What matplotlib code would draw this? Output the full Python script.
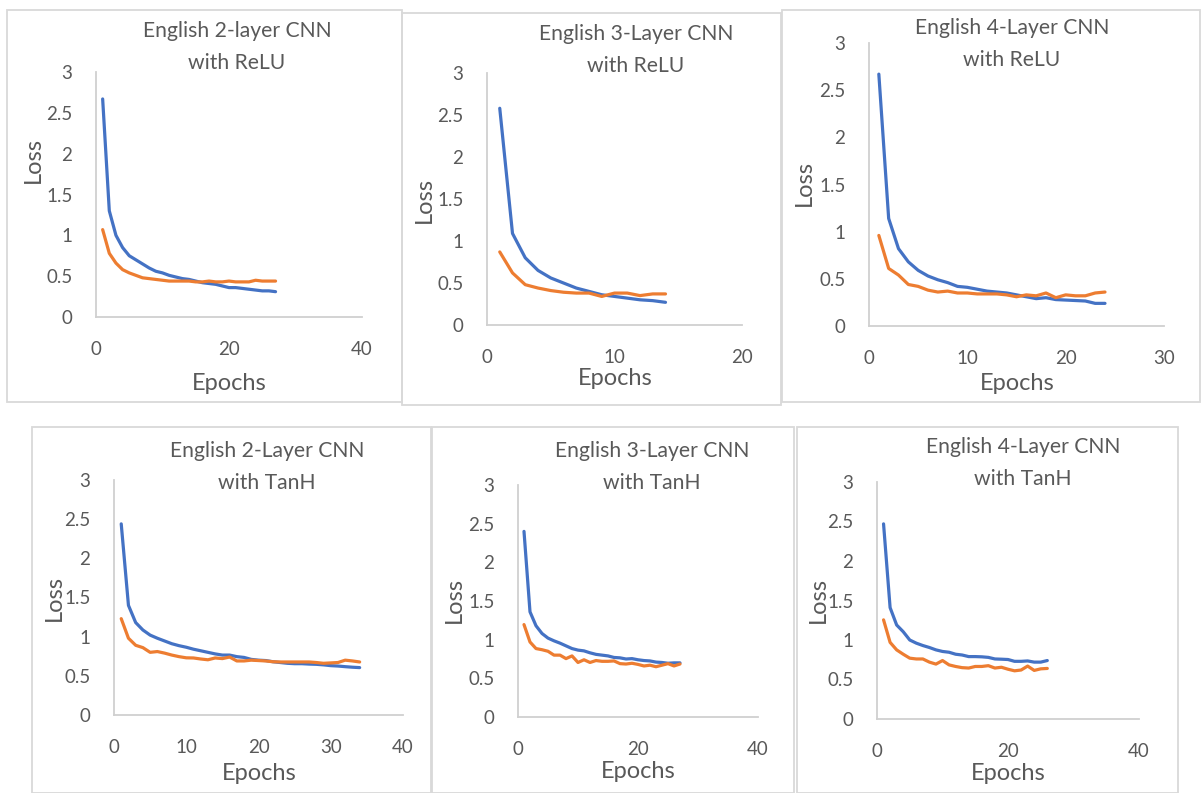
import matplotlib
matplotlib.use("Agg")
import matplotlib.pyplot as plt
from matplotlib.patches import Rectangle

plt.rcParams['font.family'] = ['Lato', 'DejaVu Sans']

W, H = 1203, 793

# ---------------- data ----------------
titles = [
    "English 2-layer CNN\nwith ReLU",
    "English 3-Layer CNN\nwith ReLU",
    "English 4-Layer CNN\nwith ReLU",
    "English 2-Layer CNN\nwith TanH",
    "English 3-Layer CNN\nwith TanH",
    "English 4-Layer CNN\nwith TanH",
]
x_max = [40, 20, 30, 40, 40, 40]
x_ticks = [[0, 20, 40], [0, 10, 20], [0, 10, 20, 30], [0, 10, 20, 30, 40], [0, 20, 40], [0, 20, 40]]
y_ticks = [0, 0.5, 1, 1.5, 2, 2.5, 3]
y_tick_labels = ["0", "0.5", "1", "1.5", "2", "2.5", "3"]

relu2_blue = [2.67, 1.30, 1.00, 0.85, 0.75, 0.70, 0.65, 0.60, 0.56, 0.54, 0.51, 0.49, 0.47, 0.46,
              0.44, 0.42, 0.41, 0.40, 0.38, 0.36, 0.36, 0.35, 0.34, 0.33, 0.32, 0.32, 0.31]
relu2_orange = [1.07, 0.78, 0.66, 0.58, 0.54, 0.51, 0.48, 0.47, 0.46, 0.45, 0.44, 0.44, 0.44, 0.44,
                0.43, 0.43, 0.44, 0.43, 0.43, 0.44, 0.43, 0.43, 0.43, 0.45, 0.44, 0.44, 0.44]

relu3_blue = [2.58, 1.09, 0.80, 0.65, 0.56, 0.50, 0.44, 0.40, 0.36, 0.34, 0.32, 0.30, 0.29, 0.27]
relu3_orange = [0.87, 0.62, 0.48, 0.44, 0.41, 0.39, 0.38, 0.38, 0.34, 0.38, 0.38, 0.35, 0.37, 0.37]

relu4_blue = [2.67, 1.14, 0.82, 0.68, 0.59, 0.53, 0.49, 0.46, 0.42, 0.41, 0.39, 0.37, 0.36, 0.35,
              0.33, 0.31, 0.29, 0.30, 0.28, 0.275, 0.27, 0.265, 0.24, 0.24]
relu4_orange = [0.96, 0.61, 0.54, 0.44, 0.42, 0.38, 0.36, 0.37, 0.35, 0.35, 0.34, 0.34, 0.34, 0.33,
                0.31, 0.33, 0.32, 0.35, 0.30, 0.33, 0.32, 0.32, 0.35, 0.36]

tanh2_blue = [2.44, 1.40, 1.18, 1.085, 1.02, 0.98, 0.945, 0.91, 0.885, 0.865, 0.84, 0.82, 0.80, 0.78,
              0.765, 0.765, 0.745, 0.735, 0.71, 0.70, 0.695, 0.68, 0.67, 0.66, 0.655, 0.655, 0.65,
              0.647, 0.64, 0.63, 0.625, 0.617, 0.61, 0.605]
tanh2_orange = [1.23, 0.98, 0.89, 0.86, 0.80, 0.81, 0.79, 0.765, 0.745, 0.73, 0.728, 0.715, 0.705, 0.728,
                0.72, 0.74, 0.69, 0.69, 0.70, 0.695, 0.69, 0.68, 0.677, 0.677, 0.677, 0.677, 0.677,
                0.67, 0.66, 0.665, 0.67, 0.70, 0.69, 0.677]

tanh3_blue = [2.40, 1.36, 1.18, 1.08, 1.02, 0.985, 0.955, 0.92, 0.885, 0.865, 0.855, 0.83, 0.81, 0.80,
              0.79, 0.77, 0.765, 0.75, 0.755, 0.74, 0.73, 0.725, 0.71, 0.705, 0.695, 0.70, 0.70]
tanh3_orange = [1.195, 0.97, 0.885, 0.87, 0.85, 0.80, 0.80, 0.755, 0.79, 0.705, 0.74, 0.705, 0.73, 0.72,
                0.72, 0.725, 0.69, 0.685, 0.695, 0.68, 0.66, 0.67, 0.65, 0.67, 0.69, 0.66, 0.685]

tanh4_blue = [2.47, 1.41, 1.19, 1.105, 1.00, 0.96, 0.93, 0.905, 0.875, 0.855, 0.845, 0.82, 0.81, 0.79,
              0.79, 0.787, 0.78, 0.76, 0.757, 0.753, 0.73, 0.73, 0.735, 0.72, 0.72, 0.74]
tanh4_orange = [1.255, 0.97, 0.875, 0.82, 0.77, 0.76, 0.76, 0.72, 0.695, 0.74, 0.685, 0.665, 0.65, 0.645,
                0.665, 0.665, 0.675, 0.645, 0.655, 0.63, 0.61, 0.62, 0.67, 0.615, 0.635, 0.64]

blue_series = [relu2_blue, relu3_blue, relu4_blue, tanh2_blue, tanh3_blue, tanh4_blue]
orange_series = [relu2_orange, relu3_orange, relu4_orange, tanh2_orange, tanh3_orange, tanh4_orange]

# ---------------- layout (pixels) ----------------
borders = [(7, 10, 402, 402), (402, 13, 781, 405), (782, 10, 1200, 402),
           (32, 427, 431, 793), (432, 427, 794, 793), (797, 427, 1178, 793)]
axes_px = [(96, 362, 72, 317), (487, 742, 73, 325), (869, 1164, 43, 326),
           (114, 403, 480, 715), (518, 758, 485, 717), (877, 1139, 482, 719)]
title_px = [(237, 47), (636, 50), (1012, 44), (267, 467), (652, 467), (1023, 463)]
epochs_px = [(229, 383), (615, 379), (1017, 383), (259, 773), (638, 771), (1008, 774)]
loss_px = [(33, 160), (424, 200), (804, 183), (54, 598), (454, 600), (818, 600)]

BLUE = "#4472C4"
ORANGE = "#ED7D31"
TXT = "#595959"
GRID = "#D0D0D0"

fig = plt.figure(figsize=(W / 100, H / 100), dpi=100)
fig.patch.set_facecolor("white")


def fx(x):
    return x / W


def fy(y):
    return 1 - y / H


for i in range(6):
    l, t, r, b = borders[i]
    fig.patches.append(Rectangle((fx(l), fy(b)), fx(r) - fx(l), fy(t) - fy(b),
                                 transform=fig.transFigure, fill=False,
                                 edgecolor="#D9D9D9", linewidth=1.3))
    x0, x1, yt, yb = axes_px[i]
    ax = fig.add_axes([fx(x0), fy(yb), fx(x1) - fx(x0), fy(yt) - fy(yb)])
    ax.patch.set_alpha(0)
    xs = list(range(1, len(blue_series[i]) + 1))
    ax.plot(xs, blue_series[i], color=BLUE, linewidth=2.3, solid_capstyle="round", clip_on=False)
    xs2 = list(range(1, len(orange_series[i]) + 1))
    ax.plot(xs2, orange_series[i], color=ORANGE, linewidth=2.3, solid_capstyle="round", clip_on=False)
    ax.set_xlim(0, x_max[i])
    ax.set_ylim(0, 3)
    ax.set_xticks(x_ticks[i])
    ax.set_yticks(y_ticks)
    ax.set_yticklabels(y_tick_labels)
    for s in ["top", "right"]:
        ax.spines[s].set_visible(False)
    for s in ["left", "bottom"]:
        ax.spines[s].set_color(GRID)
        ax.spines[s].set_linewidth(1.3)
    ax.tick_params(axis="both", length=0, labelsize=13.5, labelcolor=TXT)
    ax.tick_params(axis="y", pad=17)
    ax.tick_params(axis="x", pad=17)
    cx, cy = title_px[i]
    fig.text(fx(cx), fy(cy), titles[i], ha="center", va="center", fontsize=15.2,
             color=TXT, linespacing=1.7)
    ex, ey = epochs_px[i]
    fig.text(fx(ex), fy(ey), "Epochs", ha="center", va="center", fontsize=17, color=TXT)
    lx, ly = loss_px[i]
    fig.text(fx(lx), fy(ly), "Loss", ha="center", va="center", fontsize=17, color=TXT,
             rotation=90)

fig.savefig("out.png", dpi=100, facecolor="white")
